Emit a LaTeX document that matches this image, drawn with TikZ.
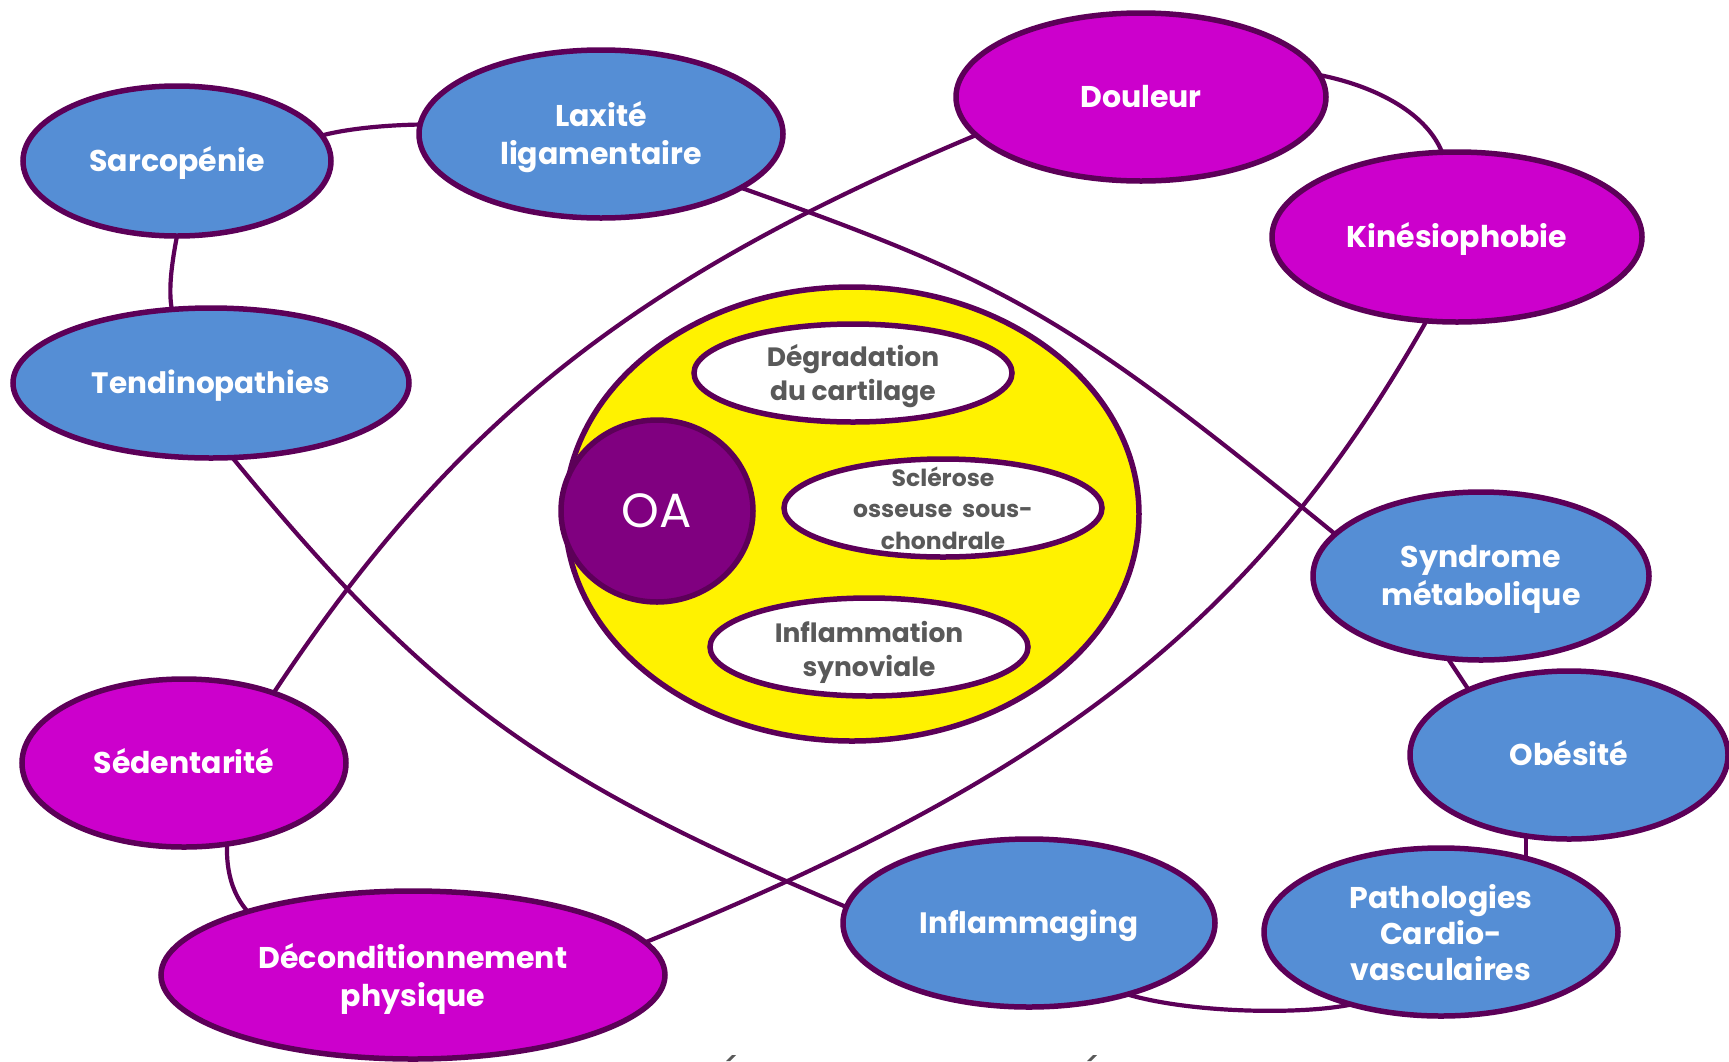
\documentclass[tikz,border=0pt]{standalone}
\usepackage{fontspec}
\setmainfont{Poppins}
\usetikzlibrary{shapes.geometric}
\pgfdeclarelayer{bg}
\pgfsetlayers{bg,main}
\definecolor{edgec}{RGB}{92,0,88}
\definecolor{nblue}{RGB}{85,142,213}
\definecolor{nmag}{RGB}{204,0,204}
\definecolor{oapurple}{RGB}{128,0,128}
\definecolor{ngray}{RGB}{89,89,89}
\begin{document}
\begin{tikzpicture}[x=1pt,y=-1pt,
  ell/.style={ellipse,draw=edgec,line width=5.5pt,inner sep=0pt,outer sep=0pt},
  blueell/.style={ell,fill=nblue},
  magell/.style={ell,fill=nmag},
  whiteell/.style={ell,fill=white},
  wtxt/.style={text=white,font=\fontsize{30}{38}\selectfont\bfseries,align=center,inner sep=0pt,yshift=-3.5pt},
  wone/.style={text=white,font=\fontsize{30}{38}\selectfont\bfseries,inner sep=0pt,text height=21pt,text depth=0pt},
  gtxt/.style={text=ngray,font=\fontsize{26.5}{34}\selectfont\bfseries,align=center,inner sep=0pt,yshift=-3pt},
  stxt/.style={text=ngray,font=\fontsize{23.5}{31.5}\selectfont\bfseries,align=center,inner sep=0pt},
  oatxt/.style={text=white,font=\fontsize{48}{50}\selectfont,inner sep=0pt},
  link/.style={draw=edgec,line width=4.2pt},
]
\useasboundingbox (0,0) rectangle (1729,1061);
\begin{pgfonlayer}{bg}
\fill[white] (0,0) rectangle (1729,1061);
\end{pgfonlayer}

% outer nodes
\node[blueell,minimum width=308pt,minimum height=150pt] (sarc) at (177,161) {};
\node[wone] (sarc-t) at (sarc) {Sarcopénie};
\node[blueell,minimum width=364pt,minimum height=168pt] (lax) at (601,134) {};
\node[wtxt] (lax-t) at (lax) {Laxité\\ligamentaire};
\node[magell,minimum width=370pt,minimum height=168pt] (doul) at (1141,97) {};
\node[wone] (doul-t) at (doul) {Douleur};
\node[magell,minimum width=370pt,minimum height=170pt] (kine) at (1457,237) {};
\node[wone] (kine-t) at (kine) {Kinésiophobie};
\node[blueell,minimum width=396pt,minimum height=150pt] (tend) at (211,383) {};
\node[wone,font=\fontsize{29.5}{38}\selectfont\bfseries] (tend-t) at (tend) {Tendinopathies};
\node[blueell,minimum width=336pt,minimum height=168pt] (synd) at (1481,576) {};
\node[wtxt] (synd-t) at (synd) {Syndrome\\métabolique};
\node[blueell,minimum width=318pt,minimum height=168pt] (obes) at (1569,755) {};
\node[wone] (obes-t) at (obes) {Obésité};
\node[blueell,minimum width=354pt,minimum height=168pt] (path) at (1441,932) {};
\node[wtxt,font=\fontsize{30}{36}\selectfont\bfseries,yshift=3.3pt] (path-t) at (path) {Pathologies\\Cardio-\\vasculaires};
\node[blueell,minimum width=372pt,minimum height=168pt] (infl) at (1029,923) {};
\node[wone,font=\fontsize{29.5}{38}\selectfont\bfseries] (infl-t) at (infl) {Inflammaging};
\node[magell,minimum width=324pt,minimum height=168pt] (sede) at (184,763) {};
\node[wone] (sede-t) at (sede) {Sédentarité};
\node[magell,minimum width=504pt,minimum height=168pt] (deco) at (413,975) {};
\node[wtxt] (deco-t) at (deco) {Déconditionnement\\physique};

% central group
\node[ell,fill=yellow,minimum width=574pt,minimum height=454pt] (yell) at (852,514) {};
\node[ell,fill=oapurple,minimum width=192pt,minimum height=182pt] (oa) at (657,511) {};
\node[oatxt] (oa-t) at (oa) {OA};
\node[whiteell,minimum width=318pt,minimum height=98pt] (degr) at (853,373) {};
\node[gtxt] (degr-t) at (degr) {Dégradation\\du cartilage};
\node[whiteell,minimum width=318pt,minimum height=98pt] (scle) at (943,508) {};
\node[stxt] (scle-t) at (scle) {Sclérose\\osseuse\ \ sous-\\chondrale};
\node[whiteell,minimum width=318pt,minimum height=98pt] (infs) at (869,647) {};
\node[gtxt,yshift=-2pt] (infs-t) at (infs) {Inflammation\\synoviale};

% connectors
\begin{pgfonlayer}{bg}
\draw[link] (sarc.10) .. controls (350,128) and (390,125) .. (lax.177);
\draw[link] (sarc.-90) .. controls (172,262) and (168,290) .. (tend.118);
\draw[link] (doul.7) .. controls (1370,85) and (1425,110) .. (kine.100);
\draw[link] (doul.193) .. controls (633,279) and (453,422) .. (sede.38);
\draw[link] (lax.-21) .. controls (1010,283) and (1069,317) .. (synd.164);
\draw[link] (kine.250) .. controls (1259,616) and (1062,773) .. (deco.8);
\draw[link] (tend.-74) .. controls (429,697) and (541,778) .. (infl.175);
\draw[link] (infl.-36) .. controls (1190,1013) and (1300,1015) .. (path.219);
\draw[link] (sede.-62) .. controls (226,872) and (233,895) .. (deco.159);
\draw[link] (synd.248) -- (obes.147);
\draw[link] (obes.242) -- (obes.242 |- path.43);
\end{pgfonlayer}

% clipped caption accents at the bottom edge
\fill[ngray] (726,1061) -- (732,1055) -- (736,1055) -- (730,1061) -- cycle;
\fill[ngray] (1087,1061) -- (1093,1055) -- (1097,1055) -- (1091,1061) -- cycle;
\end{tikzpicture}
\end{document}
